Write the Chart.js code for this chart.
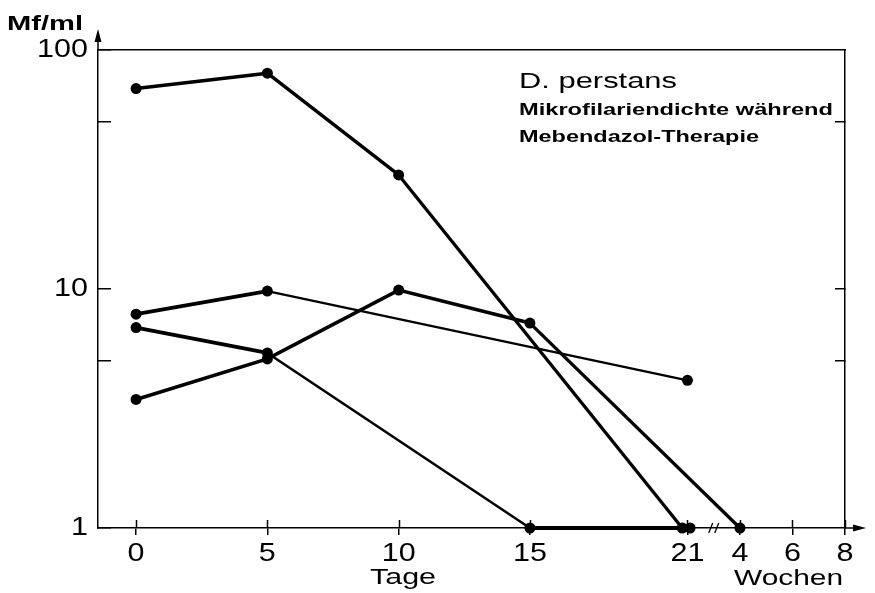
<!DOCTYPE html>
<html><head><meta charset="utf-8">
<script src="https://cdn.jsdelivr.net/npm/chart.js@4.4.1/dist/chart.umd.min.js"></script>
<style>html,body{margin:0;padding:0;background:#fff}canvas{display:block}</style>
</head><body>
<canvas id="c" width="875" height="593"></canvas>
<script>
// x positions: days 0..21, then weeks (4, 6, 8) placed after the axis break
const xTickValues = [0, 5, 10, 15, 21, 23, 25, 27];
const xTickLabels = ['0', '5', '10', '15', '21', '4', '6', '8'];
const yTickValues = [1, 5, 10, 50, 100];
const yTickLabels = ['1', '', '10', '', '100'];
const yRightTickValues = [5, 10, 50];

const seriesAx = [0, 5, 10, 20.8];
const seriesAy = [69, 80, 30, 1];
const seriesBx = [0, 5, 10, 15, 23];
const seriesBy = [3.45, 5.1, 9.9, 7.2, 1];
const seriesCx = [0, 5, 15, 21.1];
const seriesCy = [6.9, 5.4, 1, 1];
const seriesDx = [0, 5, 21];
const seriesDy = [7.85, 9.8, 4.15];

// styles (segment line widths)
const segW = {
  A: [3.5, 3.4, 3.3],
  B: [3.6, 3.6, 3.6, 3.3],
  C: [3.8, 2.6, 4.2],
  D: [3.8, 2.3]
};

const FONT = '"Liberation Sans", Arial, Helvetica, sans-serif';
const TICK_STRETCH = 1.22;

function pts(xs, ys) { return xs.map((x, i) => ({x: x, y: ys[i]})); }
function ds(xs, ys, w) {
  return {
    data: pts(xs, ys),
    borderColor: '#000',
    backgroundColor: '#000',
    pointBackgroundColor: '#000',
    pointBorderWidth: 0,
    pointRadius: 5.5,
    pointHoverRadius: 5.5,
    tension: 0,
    clip: false,
    borderWidth: w[0],
    segment: { borderWidth: ctx => w[ctx.p0DataIndex] }
  };
}

// draw text horizontally stretched so that it spans targetWidth
function drawStretched(ctx, text, x, y, font, targetWidth) {
  ctx.font = font;
  const natural = ctx.measureText(text).width;
  const sx = targetWidth / natural;
  ctx.save();
  ctx.translate(x, y);
  ctx.scale(sx, 1);
  ctx.textAlign = 'left';
  ctx.textBaseline = 'alphabetic';
  ctx._origFillText.call(ctx, text, 0, 0);
  ctx.restore();
}

const decor = {
  id: 'decor',
  beforeInit(chart) {
    const ctx = chart.ctx;
    if (!ctx._origFillText) {
      ctx._origFillText = ctx.fillText;
      ctx._sx = 1;
      ctx.fillText = function (t, x, y, mw) {
        if (this._sx === 1) return this._origFillText.call(this, t, x, y);
        this.save();
        this.translate(x, y);
        this.scale(this._sx, 1);
        this._origFillText.call(this, t, 0, 0);
        this.restore();
      };
    }
  },
  beforeDraw(chart) { chart.ctx._sx = TICK_STRETCH; },
  afterDraw(chart) {
    const ctx = chart.ctx;
    ctx._sx = 1;
    ctx.save();
    const {left, right, top, bottom} = chart.chartArea;
    ctx.strokeStyle = '#000';
    ctx.fillStyle = '#000';
    ctx.lineWidth = 1.5;
    // y-axis extension + arrow
    ctx.beginPath(); ctx.moveTo(left, top); ctx.lineTo(left, top - 10); ctx.stroke();
    ctx.beginPath(); ctx.moveTo(left, top - 21); ctx.lineTo(left - 3.5, top - 8); ctx.lineTo(left + 3.5, top - 8); ctx.closePath(); ctx.fill();
    // x-axis extension + arrow
    ctx.beginPath(); ctx.moveTo(right, bottom); ctx.lineTo(right + 10, bottom); ctx.stroke();
    ctx.beginPath(); ctx.moveTo(right + 21, bottom); ctx.lineTo(right + 8, bottom - 3.5); ctx.lineTo(right + 8, bottom + 3.5); ctx.closePath(); ctx.fill();
    // upward part of x ticks
    const xs = chart.scales.x;
    xs.ticks.forEach(t => {
      const px = Math.round(xs.getPixelForValue(t.value)) + 0.5;
      ctx.beginPath(); ctx.moveTo(px, bottom); ctx.lineTo(px, bottom - 8); ctx.stroke();
    });
    // axis break //
    const bx = xs.getPixelForValue(22);
    ctx.lineWidth = 1.3;
    ctx.beginPath();
    ctx.moveTo(bx - 5, bottom + 5); ctx.lineTo(bx - 1, bottom - 5);
    ctx.moveTo(bx + 1, bottom + 5); ctx.lineTo(bx + 5, bottom - 5);
    ctx.stroke();
    // texts
    drawStretched(ctx, 'Mf/ml', 7, 30, 'bold 21px ' + FONT, 76);
    drawStretched(ctx, 'D. perstans', 519, 88, '22px ' + FONT, 158);
    drawStretched(ctx, 'Mikrofilariendichte während', 519, 115, 'bold 17px ' + FONT, 314);
    drawStretched(ctx, 'Mebendazol-Therapie', 519, 142, 'bold 17px ' + FONT, 240);
    drawStretched(ctx, 'Tage', 370, 584, '22px ' + FONT, 66);
    drawStretched(ctx, 'Wochen', 734, 585, '22px ' + FONT, 109);
    ctx.restore();
  }
};

new Chart(document.getElementById('c'), {
  type: 'line',
  data: {
    datasets: [
      ds(seriesAx, seriesAy, segW.A),
      ds(seriesBx, seriesBy, segW.B),
      ds(seriesCx, seriesCy, segW.C),
      ds(seriesDx, seriesDy, segW.D)
    ]
  },
  options: {
    responsive: false,
    animation: false,
    events: [],
    layout: { padding: { left: 0, right: 30, top: 50, bottom: 0 } },
    plugins: { legend: { display: false }, tooltip: { enabled: false }, title: { display: false } },
    scales: {
      x: {
        type: 'linear', position: 'bottom', min: -1.45, max: 27,
        afterBuildTicks: s => { s.ticks = xTickValues.map(v => ({value: v})); },
        afterFit: s => { s.height = 65; },
        ticks: {
          autoSkip: false, maxRotation: 0, minRotation: 0, padding: 4, color: '#000',
          font: { family: FONT, size: 25 },
          callback: (v, i) => xTickLabels[i]
        },
        grid: { drawOnChartArea: false, drawTicks: true, tickLength: 7, color: '#000', lineWidth: 1.5 },
        border: { display: true, color: '#000', width: 1.5 }
      },
      xTop: {
        type: 'linear', position: 'top', min: -1.45, max: 27,
        afterFit: s => { s.height = 0; },
        ticks: { display: false },
        grid: { display: false },
        border: { display: true, color: '#000', width: 1.5 }
      },
      y: {
        type: 'logarithmic', position: 'left', min: 1, max: 100,
        afterBuildTicks: s => { s.ticks = yTickValues.map(v => ({value: v})); },
        afterFit: s => { s.width = 98; },
        ticks: {
          autoSkip: false, padding: 23, color: '#000',
          font: { family: FONT, size: 25 },
          callback: (v, i) => yTickLabels[i]
        },
        grid: { drawOnChartArea: false, drawTicks: true, tickLength: -13, color: '#000', lineWidth: 1.5 },
        border: { display: true, color: '#000', width: 1.5 }
      },
      yRight: {
        type: 'logarithmic', position: 'right', min: 1, max: 100,
        afterBuildTicks: s => { s.ticks = yRightTickValues.map(v => ({value: v})); },
        afterFit: s => { s.width = 0; },
        ticks: { display: false },
        grid: { drawOnChartArea: false, drawTicks: true, tickLength: -10, color: '#000', lineWidth: 1.5 },
        border: { display: true, color: '#000', width: 1.5 }
      }
    }
  },
  plugins: [decor]
});
</script>
</body></html>
